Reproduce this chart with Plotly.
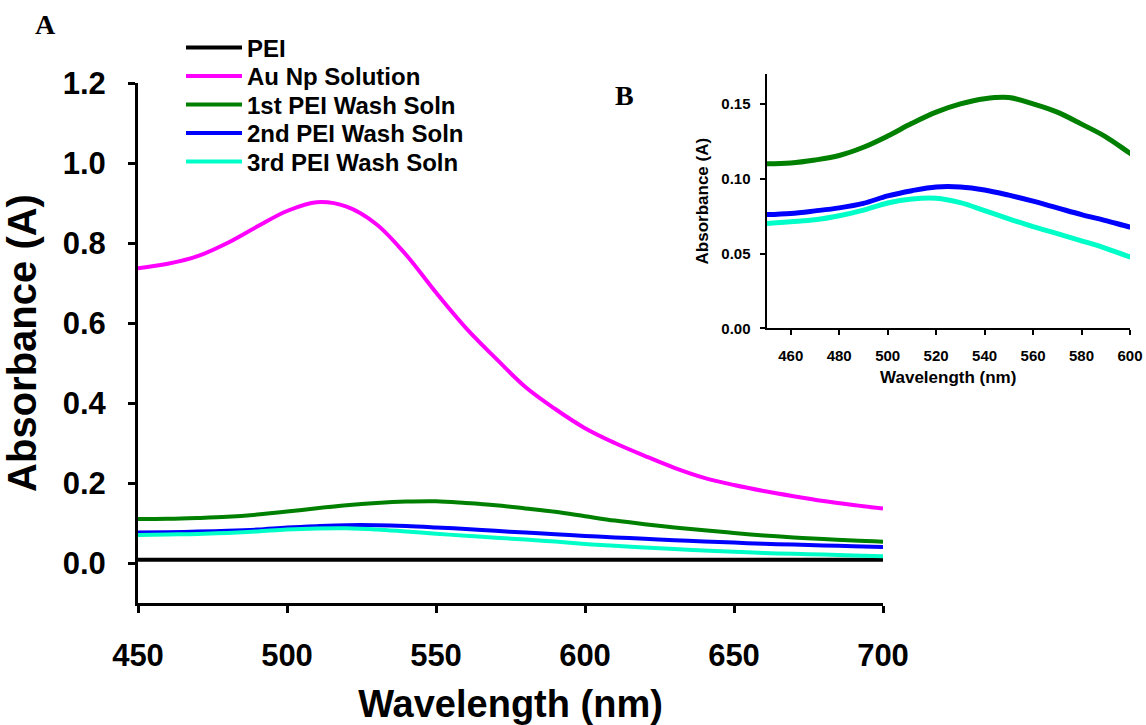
import plotly.graph_objects as go

# ---------------- data ----------------
wavelength = [450, 460, 470, 480, 490, 500, 510, 520, 530, 540, 550, 560, 570,
              580, 590, 600, 610, 620, 630, 640, 650, 660, 670, 680, 690, 700]

pei = [0.008] * len(wavelength)

au_np = [0.737, 0.748, 0.767, 0.800, 0.841, 0.880, 0.902, 0.891, 0.847, 0.770,
         0.676, 0.588, 0.512, 0.440, 0.385, 0.337, 0.300, 0.268, 0.238, 0.213,
         0.195, 0.180, 0.167, 0.155, 0.145, 0.136]

wash1 = [0.1100, 0.1105, 0.1125, 0.1155, 0.1210, 0.1285, 0.1370, 0.1445, 0.1500,
         0.1535, 0.1543, 0.1500, 0.1445, 0.1365, 0.1280, 0.1170, 0.1060, 0.0970,
         0.0890, 0.0820, 0.0750, 0.0690, 0.0640, 0.0600, 0.0560, 0.0530]

wash2 = [0.0760, 0.0768, 0.0785, 0.0805, 0.0835, 0.0885, 0.0920, 0.0945, 0.0945,
         0.0925, 0.0890, 0.0850, 0.0805, 0.0760, 0.0720, 0.0677, 0.0640, 0.0605,
         0.0570, 0.0540, 0.0510, 0.0480, 0.0460, 0.0440, 0.0420, 0.0400]

wash3 = [0.0700, 0.0712, 0.0725, 0.0752, 0.0790, 0.0838, 0.0865, 0.0870, 0.0840,
         0.0787, 0.0732, 0.0680, 0.0633, 0.0585, 0.0535, 0.0477, 0.0430, 0.0390,
         0.0350, 0.0310, 0.0280, 0.0250, 0.0230, 0.0210, 0.0190, 0.0170]

series_names = ["PEI", "Au Np Solution", "1st PEI Wash Soln", "2nd PEI Wash Soln", "3rd PEI Wash Soln"]
series_colors = ["#000000", "#FF00FF", "#008000", "#0000FF", "#00FFC8"]
series_values = [pei, au_np, wash1, wash2, wash3]

main_yticks = [0.0, 0.2, 0.4, 0.6, 0.8, 1.0, 1.2]
main_xticks = [450, 500, 550, 600, 650, 700]
inset_yticks = [0.00, 0.05, 0.10, 0.15]
inset_xticks = [460, 480, 500, 520, 540, 560, 580, 600]

# ---------------- figure ----------------
W, H = 1146, 725
SANS = "Liberation Sans, Arial, sans-serif"
SERIF = "Liberation Serif, Times New Roman, serif"

def px_x(p):
    return p / W

def px_y(p):
    return 1 - p / H

legend_ids = ["legend", "legend2", "legend3", "legend4", "legend5"]
legend_rows_px = [48, 76.5, 105, 133.5, 162]

fig = go.Figure()

for name, color, vals, lid in zip(series_names, series_colors, series_values, legend_ids):
    fig.add_trace(go.Scatter(
        x=wavelength, y=vals, name=name, mode="lines",
        line=dict(color=color, width=4, shape="spline"),
        xaxis="x", yaxis="y", showlegend=True, legend=lid,
    ))

# inset: the three wash solutions
for name, color, vals in zip(series_names[2:], series_colors[2:], series_values[2:]):
    fig.add_trace(go.Scatter(
        x=wavelength, y=vals, name=name, mode="lines",
        line=dict(color=color, width=5, shape="spline"),
        xaxis="x2", yaxis="y2", showlegend=False,
    ))

main_axis_common = dict(
    showline=True, linecolor="black", linewidth=3, mirror=False,
    ticks="outside", ticklen=7, tickwidth=3, tickcolor="black",
    showgrid=False, zeroline=False, automargin=False,
    tickfont=dict(family=SANS, size=31, color="black", weight="bold"),
)

inset_axis_common = dict(
    showline=True, linecolor="black", linewidth=2, mirror=False,
    ticks="outside", ticklen=5, tickwidth=2, tickcolor="black",
    showgrid=False, zeroline=False, automargin=False,
    tickfont=dict(family=SANS, size=15, color="black", weight="bold"),
)

legend_layout = {}
for lid, row in zip(legend_ids, legend_rows_px):
    legend_layout[lid] = dict(
        x=px_x(181), y=px_y(row), xanchor="left", yanchor="middle",
        font=dict(family=SANS, size=24, color="black", weight="bold"),
        bgcolor="rgba(0,0,0,0)", borderwidth=0,
        itemwidth=56, tracegroupgap=0,
    )

fig.update_layout(
    width=W, height=H,
    margin=dict(l=0, r=0, t=0, b=0, autoexpand=False),
    paper_bgcolor="white", plot_bgcolor="rgba(0,0,0,0)",
    showlegend=True,
    xaxis=dict(
        domain=[px_x(138), px_x(883)], range=[450, 700],
        tickvals=main_xticks, anchor="y",
        ticklabelstandoff=16,
        title=dict(text="Wavelength (nm)", standoff=22,
                   font=dict(family=SANS, size=38, color="black", weight="bold")),
        **main_axis_common,
    ),
    yaxis=dict(
        domain=[px_y(603), px_y(83)], range=[-0.1, 1.2],
        tickvals=main_yticks, tickformat=".1f", anchor="x",
        ticklabelstandoff=16,
        title=dict(text="Absorbance (A)", standoff=18,
                   font=dict(family=SANS, size=40, color="black", weight="bold")),
        **main_axis_common,
    ),
    xaxis2=dict(
        domain=[px_x(766.5), px_x(1130)], range=[450, 600],
        tickvals=inset_xticks, anchor="y2",
        ticklabelstandoff=8,
        title=dict(text="Wavelength (nm)", standoff=8,
                   font=dict(family=SANS, size=17, color="black", weight="bold")),
        **inset_axis_common,
    ),
    yaxis2=dict(
        domain=[px_y(328.3), px_y(74)], range=[0, 0.17],
        tickvals=inset_yticks, tickformat=".2f", anchor="x2",
        ticklabelstandoff=6,
        title=dict(text="Absorbance (A)", standoff=8,
                   font=dict(family=SANS, size=17, color="black", weight="bold")),
        **inset_axis_common,
    ),
    annotations=[
        dict(text="A", x=px_x(45), y=px_y(25), xref="paper", yref="paper",
             showarrow=False, xanchor="center", yanchor="middle",
             font=dict(family=SERIF, size=28, color="black", weight="bold")),
        dict(text="B", x=px_x(624), y=px_y(95), xref="paper", yref="paper",
             showarrow=False, xanchor="center", yanchor="middle",
             font=dict(family=SERIF, size=28, color="black", weight="bold")),
    ],
    **legend_layout,
)

fig.write_html("out.html")
